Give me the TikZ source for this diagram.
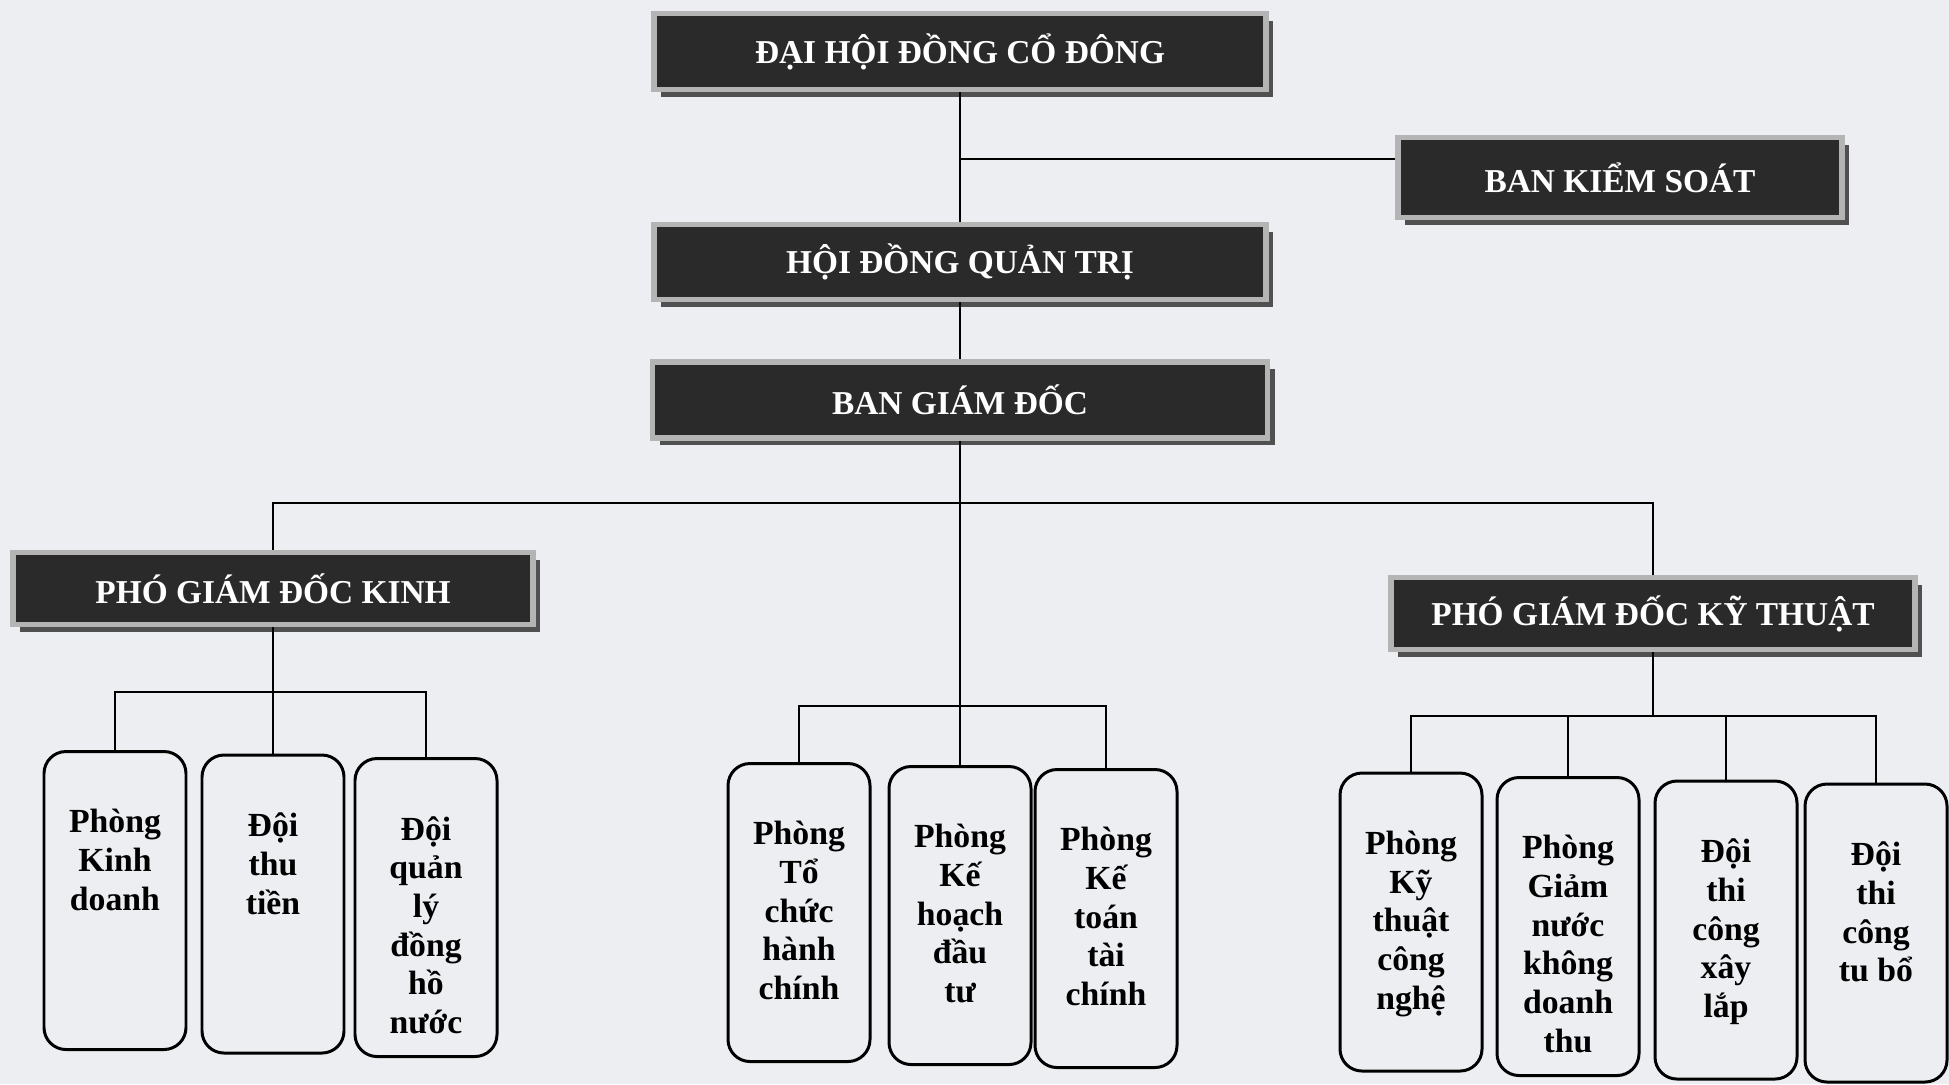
\documentclass[tikz,border=0pt]{standalone}
\usepackage{fontspec}
\setmainfont{Liberation Serif}
\usepackage{xcolor}
\usepackage{tikz}
\usetikzlibrary{positioning, shadows}

\definecolor{bgpaper}{HTML}{ECEEF1}
\definecolor{boardfill}{HTML}{2A2A2A}
\definecolor{boardframe}{HTML}{B4B4B4}
\definecolor{boardshadow}{HTML}{505050}

\newcommand{\unittext}[1]{\parbox[c][2.98cm][t]{1.40cm}{\fontsize{9.6}{11}\selectfont\centering\vspace*{0.58cm}#1}}

\tikzset{
  board/.style={draw=boardframe, line width=1.5pt, fill=boardfill, text=white,
    font=\bfseries\fontsize{9.5}{11}\selectfont, inner sep=0pt,
    drop shadow={shadow xshift=2pt, shadow yshift=-2pt, fill=boardshadow, opacity=1}},
  unit/.style={draw, line width=0.85pt, rounded corners=0.22cm, inner sep=0pt,
    minimum width=1.42cm, minimum height=2.98cm, font=\bfseries},
  link/.style={line width=0.75pt}
}

\begin{document}
\begin{tikzpicture}
            \useasboundingbox (0,0) rectangle (19.49,-10.84);
            \fill[bgpaper] (0,0) rectangle (19.49,-10.84);
            % Define nodes for the management boards
            \node[board, minimum width=6.12cm, minimum height=0.76cm] (dhcd) at (9.60,-0.515) {ĐẠI HỘI ĐỒNG CỔ ĐÔNG};
            \node[board, minimum width=4.44cm, minimum height=0.80cm] (bks) at (16.20,-1.775) {BAN KIỂM SOÁT};
            \node[board, minimum width=6.12cm, minimum height=0.75cm] (hdqt) at (9.60,-2.62) {HỘI ĐỒNG QUẢN TRỊ};
            \node[board, minimum width=6.15cm, minimum height=0.76cm] (bgd) at (9.60,-4.0) {BAN GIÁM ĐỐC};
            \node[board, minimum width=5.20cm, minimum height=0.72cm] (pgdkd) at (2.73,-5.885) {PHÓ GIÁM ĐỐC KINH};
            \node[board, minimum width=5.24cm, minimum height=0.72cm] (pgdkt) at (16.53,-6.135) {PHÓ GIÁM ĐỐC KỸ THUẬT};
            % Branch points
            \coordinate (ksbr) at (9.60,-1.59);
            \coordinate (bus) at (9.60,-5.03);
            \coordinate (lbus) at (2.73,-6.92);
            \coordinate (mbus) at (9.60,-7.06);
            \coordinate (rbus) at (16.53,-7.16);
            % Define nodes for the business units
            \node[unit] (kd) at (1.15,-9.005) {\unittext{Phòng\\Kinh\\doanh}};
            \node[unit] (tt) at (2.73,-9.04) {\unittext{Đội\\thu\\tiền}};
            \node[unit] (dh) at (4.26,-9.075) {\unittext{Đội\\quản\\lý\\đồng\\hồ\\nước}};
            % Define nodes for the offices
            \node[unit] (tc) at (7.99,-9.125) {\unittext{Phòng\\Tổ\\chức\\hành\\chính}};
            \node[unit] (kh) at (9.60,-9.155) {\unittext{Phòng\\Kế\\hoạch\\đầu\\tư}};
            \node[unit] (ktc) at (11.06,-9.185) {\unittext{Phòng\\Kế\\toán\\tài\\chính}};
            % Define nodes for the technical units
            \node[unit] (ktcn) at (14.11,-9.22) {\unittext{Phòng\\Kỹ\\thuật\\công\\nghệ}};
            \node[unit] (gn) at (15.68,-9.265) {\unittext{Phòng\\Giảm\\nước\\không\\doanh\\thu}};
            \node[unit] (xl) at (17.26,-9.30) {\unittext{Đội\\thi\\công\\xây\\lắp}};
            \node[unit] (tb) at (18.76,-9.33) {\unittext{Đội\\thi\\công\\tu bổ}};
            % Connectors
            \draw[link] (dhcd.south) -- (hdqt.north);
            \draw[link] (ksbr) -- (ksbr -| bks.west);
            \draw[link] (hdqt.south) -- (bgd.north);
            \draw[link] (bgd.south) -- (mbus);
            \draw[link] (pgdkd.north) |- (bus) -| (pgdkt.north);
            \draw[link] (pgdkd.south) -- (tt.north);
            \draw[link] (kd.north) |- (lbus) -| (dh.north);
            \draw[link] (tc.north) |- (mbus) -| (ktc.north);
            \draw[link] (mbus) -- (kh.north);
            \draw[link] (pgdkt.south) -- (rbus);
            \draw[link] (ktcn.north) |- (rbus) -| (tb.north);
            \draw[link] (gn.north) -- (gn.north |- rbus);
            \draw[link] (xl.north) -- (xl.north |- rbus);
        \end{tikzpicture}
\end{document}
